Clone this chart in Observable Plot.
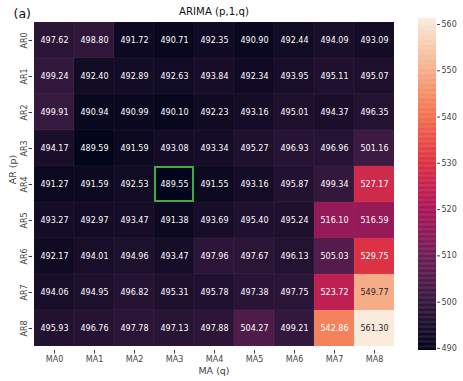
<!DOCTYPE html>
<html><head><meta charset="utf-8">
<script src="https://cdn.jsdelivr.net/npm/d3@7"></script>
<script src="https://cdn.jsdelivr.net/npm/@observablehq/plot@0.6"></script>
<style>
body{margin:0;background:#fff}
#wrap{position:relative;width:463px;height:381px;background:#fff}
#wrap svg{position:absolute;left:0;top:0;background:transparent}
</style>
</head><body><div id="wrap"></div>
<script>
const maLabels = ["MA0","MA1","MA2","MA3","MA4","MA5","MA6","MA7","MA8"];
const arLabels = ["AR0","AR1","AR2","AR3","AR4","AR5","AR6","AR7","AR8"];
const ar0 = [497.62, 498.80, 491.72, 490.71, 492.35, 490.90, 492.44, 494.09, 493.09];
const ar1 = [499.24, 492.40, 492.89, 492.63, 493.84, 492.34, 493.95, 495.11, 495.07];
const ar2 = [499.91, 490.94, 490.99, 490.10, 492.23, 493.16, 495.01, 494.37, 496.35];
const ar3 = [494.17, 489.59, 491.59, 493.08, 493.34, 495.27, 496.93, 496.96, 501.16];
const ar4 = [491.27, 491.59, 492.53, 489.55, 491.55, 493.16, 495.87, 499.34, 527.17];
const ar5 = [493.27, 492.97, 493.47, 491.38, 493.69, 495.40, 495.24, 516.10, 516.59];
const ar6 = [492.17, 494.01, 494.96, 493.47, 497.96, 497.67, 496.13, 505.03, 529.75];
const ar7 = [494.06, 494.95, 496.82, 495.31, 495.78, 497.38, 497.75, 523.72, 549.77];
const ar8 = [495.93, 496.76, 497.78, 497.13, 497.88, 504.27, 499.21, 542.86, 561.30];
const colorbarTicks = [490, 500, 510, 520, 530, 540, 550, 560];
const rocketStops = ["#03051a","#35193e","#701f57","#ad1759","#e13342","#f37651","#f6b48f","#faebdd"];
const bestCell = {ar: "AR4", ma: "MA3"};

const grid = [ar0, ar1, ar2, ar3, ar4, ar5, ar6, ar7, ar8];
const table = [];
grid.forEach((row, i) => row.forEach((v, j) => table.push({ar: arLabels[i], ma: maLabels[j], v})));
const vmin = d3.min(table, d => d.v), vmax = d3.max(table, d => d.v);
const interp = d3.piecewise(d3.interpolateRgb, rocketStops);
const colorOpts = {type: "linear", domain: [vmin, vmax], interpolate: interp};

function lum(c) {
  const r = d3.rgb(c);
  const f = x => { x /= 255; return x <= 0.03928 ? x / 12.92 : Math.pow((x + 0.055) / 1.055, 2.4); };
  return 0.2126 * f(r.r) + 0.7152 * f(r.g) + 0.0722 * f(r.b);
}
const textColor = d => lum(interp((d.v - vmin) / (vmax - vmin))) > 0.408 ? "#262626" : "#ffffff";
const font = "DejaVu Sans, sans-serif";

const main = Plot.plot({
  width: 463, height: 381,
  marginLeft: 32, marginRight: 68, marginTop: 17.5, marginBottom: 31,
  x: {domain: maLabels, padding: 0, label: null},
  y: {domain: arLabels, padding: 0, label: null},
  color: colorOpts,
  style: {fontFamily: font, fontSize: "8px", color: "#444", background: "transparent"},
  marks: [
    Plot.cell(table, {x: "ma", y: "ar", fill: "v", stroke: "#ffffff", strokeOpacity: 0.06, strokeWidth: 0.6}),
    Plot.text(table, {x: "ma", y: "ar", text: d => d.v.toFixed(2), fill: textColor, fontSize: 8}),
    Plot.cell(table.filter(d => d.ar === bestCell.ar && d.ma === bestCell.ma),
      {x: "ma", y: "ar", fill: "none", stroke: "#43a843", strokeWidth: 2, inset: 1}),
    Plot.axisX({tickSize: 3.5, tickPadding: 2, label: null, stroke: "#444"}),
    Plot.axisY({tickSize: 3.5, tickPadding: 2, tickRotate: -90, label: null, stroke: "#444"}),
    Plot.text(["ARIMA (p,1,q)"], {text: d => d, frameAnchor: "top", dy: -6, lineAnchor: "middle", fontSize: 10.2, fill: "#111"}),
    Plot.text(["(a)"], {text: d => d, frameAnchor: "top-left", textAnchor: "start", dx: -19, dy: -4, lineAnchor: "middle", fontSize: 12.5, fill: "#111"}),
    Plot.text(["AR (p)"], {text: d => d, frameAnchor: "left", rotate: -90, dx: -20, lineAnchor: "middle", fontSize: 9.5, fill: "#444"}),
    Plot.text(["MA (q)"], {text: d => d, frameAnchor: "bottom", dy: 20, lineAnchor: "middle", fontSize: 9.5, fill: "#444"})
  ]
});

const step = (vmax - vmin) / 400;
const steps = d3.range(vmin, vmax, step);
const bar = Plot.plot({
  width: 463, height: 381,
  marginLeft: 418, marginRight: 27, marginTop: 18, marginBottom: 31,
  x: {domain: [0, 1], axis: null},
  y: {type: "linear", domain: [vmin, vmax]},
  color: colorOpts,
  style: {fontFamily: font, fontSize: "8px", color: "#444", background: "transparent"},
  marks: [
    Plot.rect(steps, {x1: d => 0, x2: d => 1, y1: d => d, y2: d => Math.min(vmax, d + step * 1.5), fill: d => d + step / 2}),
    Plot.axisY({anchor: "right", ticks: colorbarTicks, tickSize: 3, tickPadding: 2, label: null, stroke: "#444", tickFormat: d => d})
  ]
});

const wrap = document.getElementById("wrap");
wrap.appendChild(main);
wrap.appendChild(bar);
</script>
</body></html>
